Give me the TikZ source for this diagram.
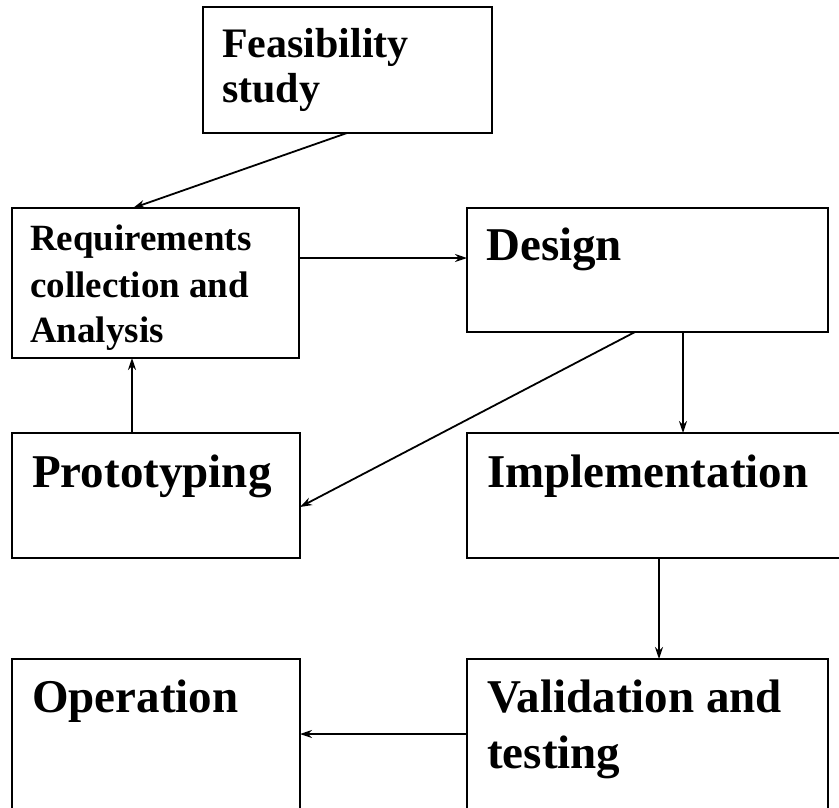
\documentclass[tikz,border=0pt]{standalone}
\usepackage{fontspec}
\setmainfont{Liberation Serif}
\usetikzlibrary{arrows.meta}
\begin{document}
\begin{tikzpicture}[x=1pt,y=-1pt,
  stagebox/.style={draw,line width=2pt,rectangle,inner sep=0pt,outer sep=0pt,anchor=north west},
  big/.style={font=\fontsize{47}{56}\selectfont\bfseries,inner sep=0pt,anchor=base west},
  mid/.style={font=\fontsize{42}{50}\selectfont\bfseries,inner sep=0pt,anchor=base west},
  small/.style={font=\fontsize{37}{45}\selectfont\bfseries,inner sep=0pt,anchor=base west},
  flow/.style={line width=1.8pt,-{Stealth[length=12pt,width=8pt]}}]
\useasboundingbox (0,0) rectangle (839,807);
\clip (0,0) rectangle (839,807);
\fill[white] (0,0) rectangle (839,807);

% stage boxes
\node[stagebox,minimum width=289pt,minimum height=126pt] (feas)   at (203,7)   {};
\node[stagebox,minimum width=287pt,minimum height=150pt] (req)    at (12,208)  {};
\node[stagebox,minimum width=361pt,minimum height=124pt] (design) at (467,208) {};
\node[stagebox,minimum width=288pt,minimum height=125pt] (proto)  at (12,433)  {};
\node[stagebox,minimum width=403pt,minimum height=125pt] (impl)   at (467,433) {};
\node[stagebox,minimum width=288pt,minimum height=180pt] (oper)   at (12,659)  {};
\node[stagebox,minimum width=361pt,minimum height=180pt] (valid)  at (467,659) {};

% labels
\node[mid] (feasA) at (222,57)  {Feasibility};
\node[mid] (feasB) at (222,102) {study};
\node[small] (reqA) at (30,250) {Requirements};
\node[small] (reqB) at (30,297) {collection and};
\node[small] (reqC) at (30,342) {Analysis};
\node[big] (designT) at (486,260) {Design};
\node[big] (protoT)  at (32,487)  {Prototyping};
\node[big] (implT)   at (487,487) {Implementation};
\node[big] (operT)   at (32,712)  {Operation};
\node[big] (validA)  at (487,712) {Validation and};
\node[big] (validB)  at (487,768) {testing};

% connectors (shifts are in page units: negative yshift goes down)
\draw[flow] ([xshift=144pt]feas.south west) -- ([xshift=121pt]req.north west);
\draw[flow] ([yshift=-50pt]req.north east) -- ([yshift=-50pt]design.north west);
\draw[flow] ([xshift=168pt]design.south west) -- ([yshift=-74pt]proto.north east);
\draw[flow] ([xshift=216pt]design.south west) -- ([xshift=216pt]impl.north west);
\draw[flow] ([xshift=120pt]proto.north west) -- ([xshift=120pt]req.south west);
\draw[flow] ([xshift=192pt]impl.south west) -- ([xshift=192pt]valid.north west);
\draw[flow] ([yshift=-75pt]valid.north west) -- ([yshift=-75pt]oper.north east);
\end{tikzpicture}
\end{document}
